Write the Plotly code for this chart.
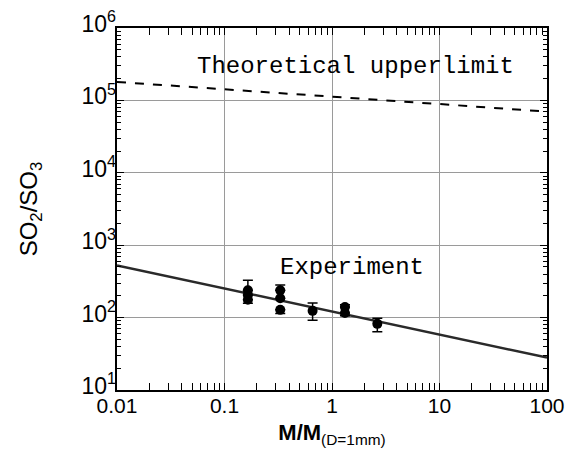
import plotly.graph_objects as go

# Experimental data (M/M_(D=1mm), SO2/SO3)
exp_x = [0.165, 0.165, 0.165, 0.33, 0.33, 0.33, 0.66, 1.32, 1.32, 2.64]
exp_y = [238, 205, 176, 238, 185, 128, 124, 140, 116, 82]
err_plus = [90, 0, 0, 45, 0, 0, 35, 10, 0, 16]
err_minus = [0, 0, 18, 0, 0, 14, 32, 0, 10, 18]

# Fitted experiment line
fit_x = [0.01, 100]
fit_y = [525, 28]

# Theoretical upper limit
theo_x = [0.01, 0.1, 1, 10, 100]
theo_y = [180000, 143000, 113000, 89000, 70000]

y_tickvals = [10, 100, 1000, 10000, 100000, 1000000]
y_ticktext = ["10<sup>1</sup>", "10<sup>2</sup>", "10<sup>3</sup>",
              "10<sup>4</sup>", "10<sup>5</sup>", "10<sup>6</sup>"]

fig = go.Figure()
fig.add_trace(go.Scatter(x=theo_x, y=theo_y, mode="lines",
                         line=dict(color="black", width=2, dash="dash"),
                         showlegend=False))
fig.add_trace(go.Scatter(x=fit_x, y=fit_y, mode="lines",
                         line=dict(color="#2a2a2a", width=2.5),
                         showlegend=False))
fig.add_trace(go.Scatter(x=exp_x, y=exp_y, mode="markers",
                         marker=dict(color="black", size=10, symbol="circle"),
                         error_y=dict(type="data", symmetric=False, array=err_plus,
                                      arrayminus=err_minus, color="black",
                                      thickness=1.5, width=5),
                         showlegend=False))
# invisible trace to carry the y tick labels axis
fig.add_trace(go.Scatter(x=[fit_x[0]], y=[fit_y[0]], yaxis="y2", mode="markers",
                         marker=dict(opacity=0), hoverinfo="skip", showlegend=False))

common = dict(showline=True, linecolor="black", linewidth=1.5, mirror="allticks",
              ticks="inside", ticklen=7, tickcolor="black",
              showgrid=True, gridcolor="#9a9a9a", gridwidth=1,
              zeroline=False, automargin=False,
              minor=dict(ticks="inside", ticklen=4, tickcolor="black", showgrid=False))

fig.update_layout(
    xaxis=dict(type="log", range=[-2, 2], dtick=1, ticklabelstandoff=-4,
               tickfont=dict(family="Liberation Sans, Arial", size=21, color="black"),
               title=dict(text="<b>M/M</b><sub>(D=1mm)</sub>",
                          font=dict(family="Liberation Sans", size=22, color="black"),
                          standoff=9),
               **common),
    yaxis=dict(type="log", range=[1, 6], dtick=1, showticklabels=False,
               title=dict(text="SO<sub>2</sub>/SO<sub>3</sub>",
                          font=dict(family="Liberation Sans", size=24, color="black"),
                          standoff=71),
               **common),
    yaxis2=dict(type="log", range=[1, 6], overlaying="y", side="left",
                tickmode="array", tickvals=y_tickvals, ticktext=y_ticktext,
                ticklabelshift=-4,
                showgrid=False, zeroline=False, ticks="",
                showline=False, automargin=False,
                tickfont=dict(family="Liberation Sans, Arial", size=23, color="black")),
)

fig.add_annotation(x=0.214, y=5.47, xref="x", yref="y", text="Theoretical upperlimit",
                   showarrow=False, xanchor="center",
                   font=dict(family="Liberation Mono, DejaVu Sans Mono, monospace", size=24, color="black"))
fig.add_annotation(x=0.186, y=2.69, xref="x", yref="y", text="Experiment",
                   showarrow=False, xanchor="center",
                   font=dict(family="Liberation Mono, DejaVu Sans Mono, monospace", size=24, color="black"))

fig.update_layout(width=568, height=463, margin=dict(l=117, r=21, t=28, b=73),
                  plot_bgcolor="white", paper_bgcolor="white")

fig.write_html("out.html", config={"displayModeBar": False},
               post_script="document.body.style.margin='0';document.body.style.overflow='hidden';")
